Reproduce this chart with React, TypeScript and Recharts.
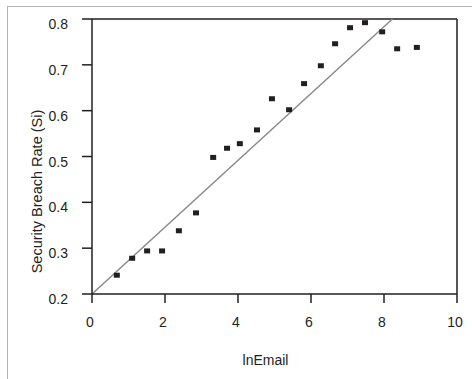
import {
  ScatterChart,
  Scatter,
  XAxis,
  YAxis,
  ReferenceLine,
  Label,
} from "recharts";

// lnEmail vs security breach rate
const LN_EMAIL = [0.68, 1.1, 1.51, 1.92, 2.38, 2.85, 3.32, 3.7, 4.05, 4.52, 4.93, 5.4, 5.81, 6.27, 6.66, 7.07, 7.48, 7.95, 8.36, 8.9];
const BREACH_RATE = [0.241, 0.278, 0.294, 0.294, 0.338, 0.377, 0.498, 0.518, 0.528, 0.558, 0.626, 0.602, 0.659, 0.698, 0.746, 0.781, 0.792, 0.772, 0.735, 0.738];

// fitted line endpoints
const FIT_X = [0, 8.23];
const FIT_Y = [0.2, 0.8];

const X_TICKS = [0, 2, 4, 6, 8, 10];
const Y_TICKS = [0.2, 0.3, 0.4, 0.5, 0.6, 0.7, 0.8];

const FONT = '"Liberation Sans", Arial, sans-serif';
const INK = "#231f20";

const points = LN_EMAIL.map((x, i) => ({ x, y: BREACH_RATE[i] }));

function SquareDot(props: any) {
  const { cx, cy } = props;
  if (cx == null || cy == null) return null;
  return <rect x={cx - 3} y={cy - 2.5} width={6} height={5} fill={INK} />;
}

function XTick(props: any) {
  const { x, y, payload } = props;
  return (
    <text x={x - 2} y={y + 22} textAnchor="middle" fontSize={14} fontFamily={FONT} fill={INK}>
      {payload.value}
    </text>
  );
}

function YTick(props: any) {
  const { x, y, payload } = props;
  return (
    <text x={x} y={y + 10} textAnchor="end" fontSize={14} fontFamily={FONT} fill={INK}>
      {payload.value.toFixed(1)}
    </text>
  );
}

function XTitle(props: any) {
  const vb = props.viewBox;
  return (
    <text x={vb.x + vb.width / 2 - 9} y={vb.y + 71} textAnchor="middle" fontSize={14} fontFamily={FONT} fill={INK}>
      lnEmail
    </text>
  );
}

function YTitle(props: any) {
  const vb = props.viewBox;
  const cx = vb.x + 37;
  const cy = vb.y + vb.height / 2 + 35;
  return (
    <text
      x={cx}
      y={cy}
      transform={`rotate(-90 ${cx} ${cy})`}
      textAnchor="middle"
      dominantBaseline="central"
      fontSize={14.5}
      fontFamily={FONT}
      fill={INK}
    >
      Security Breach Rate (Si)
    </text>
  );
}

export default function App() {
  return (
    <div style={{ position: "absolute", left: 0, top: 0, width: 472, height: 379, overflow: "hidden", background: "#fff" }}>
      <div
        style={{
          position: "absolute",
          left: 7,
          top: 6,
          width: 600,
          height: 600,
          borderTop: "1px solid #b4b4b4",
          borderLeft: "1px solid #b4b4b4",
        }}
      />
      <ScatterChart
        width={472}
        height={379}
        margin={{ top: 19, right: 15, left: 0, bottom: 35 }}
        style={{ position: "absolute", left: 0, top: 0 }}
      >
        <XAxis
          type="number"
          dataKey="x"
          domain={[0, 10]}
          ticks={X_TICKS}
          height={50}
          tick={<XTick />}
          tickSize={9}
          axisLine={{ stroke: INK, strokeWidth: 1.5 }}
          tickLine={{ stroke: INK, strokeWidth: 1.5 }}
        >
          <Label content={<XTitle />} />
        </XAxis>
        <YAxis
          type="number"
          dataKey="y"
          domain={[0.2, 0.8]}
          ticks={Y_TICKS}
          width={92}
          tick={<YTick />}
          tickSize={10}
          tickMargin={14}
          axisLine={{ stroke: INK, strokeWidth: 1.5 }}
          tickLine={{ stroke: INK, strokeWidth: 1.5 }}
        >
          <Label content={<YTitle />} />
        </YAxis>
        <ReferenceLine y={0.8} stroke={INK} strokeWidth={1.5} />
        <ReferenceLine x={10} stroke={INK} strokeWidth={1.5} />
        <ReferenceLine
          segment={[
            { x: FIT_X[0], y: FIT_Y[0] },
            { x: FIT_X[1], y: FIT_Y[1] },
          ]}
          stroke="#8a8a8a"
          strokeWidth={1.5}
        />
        <Scatter data={points} shape={<SquareDot />} isAnimationActive={false} />
      </ScatterChart>
    </div>
  );
}
